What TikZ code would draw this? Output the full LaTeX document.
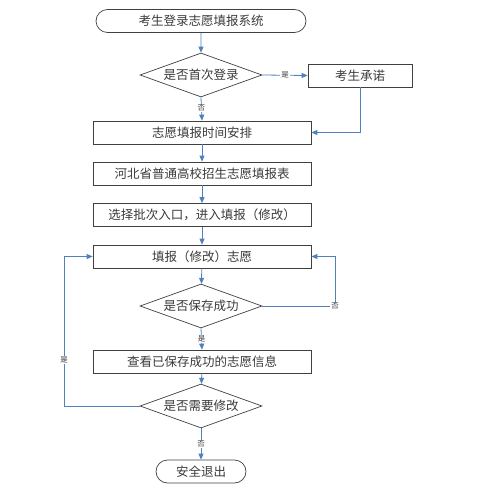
\documentclass[tikz,border=0pt]{standalone}
\usepackage{fontspec}
\newfontfamily\cjk{Noto Sans CJK SC}
\usetikzlibrary{shapes.geometric,shapes.misc,arrows.meta}
\definecolor{flowblue}{HTML}{4F81BD}
\definecolor{txtgray}{HTML}{3A3A3A}
\begin{document}
\begin{tikzpicture}[x=1pt,y=-1pt,
  every node/.style={font=\cjk\fontsize{12.5}{14}\selectfont, text=txtgray},
  procbox/.style={draw=black!75, line width=0.7pt, rectangle, minimum width=218pt, minimum height=23pt, inner sep=0pt},
  termbox/.style={draw=black!75, line width=0.7pt, rounded rectangle, minimum height=23pt, inner sep=0pt},
  decide/.style={draw=black!75, line width=0.7pt, diamond, aspect=2.8, minimum width=122pt, minimum height=44pt, inner sep=0pt},
  flow/.style={draw=flowblue, line width=0.8pt, -{Triangle[length=6pt,width=5pt]}},
  flowline/.style={draw=flowblue, line width=0.8pt},
  lbl/.style={font=\cjk\fontsize{7.5}{8}\selectfont, fill=white, inner sep=0.8pt, text=txtgray}
]
\useasboundingbox (0,0) rectangle (495,495);

\node[termbox, minimum width=210pt] (start) at (201,21) {考生登录志愿填报系统};
\node[decide] (d1) at (201,75) {是否首次登录};
\node[procbox, minimum width=104pt] (promise) at (360,75.5) {考生承诺};
\node[procbox] (time) at (202,132.5) {志愿填报时间安排};
\node[procbox] (table) at (202,173.5) {河北省普通高校招生志愿填报表};
\node[procbox] (batch) at (202,215) {选择批次入口，进入填报（修改）};
\node[procbox] (fill) at (202,256.5) {填报（修改）志愿};
\node[decide] (d2) at (201,306) {是否保存成功};
\node[procbox] (view) at (202,361.5) {查看已保存成功的志愿信息};
\node[decide] (d3) at (201,406) {是否需要修改};
\node[termbox, minimum width=90pt] (exit) at (201,471.5) {安全退出};

\coordinate (c1) at (335,306);
\coordinate (c2) at (64,406);

\draw[flow] (start) -- (d1);
\draw[flow] (d1.east) -- node[lbl] {是} (promise.west);
\draw[flow] (d1.south) -- node[lbl, pos=0.45] {否} (time.north);
\draw[flow] (promise.south) |- (time.east);
\draw[flow] (time) -- (table);
\draw[flow] (table) -- (batch);
\draw[flow] (batch) -- (fill);
\draw[flow] (fill) -- (d2);
\draw[flow] (d2.east) -- (c1) |- (fill.east);
\node[lbl] (no2) at (c1) {否};
\draw[flow] (d2.south) -- node[lbl, pos=0.5] {是} (view.north);
\draw[flow] (view) -- (d3);
\draw[flow] (d3.west) -- (c2) |- (fill.west);
\node[lbl] (yes3) at (64,360) {是};
\draw[flow] (d3.south) -- node[lbl, pos=0.5] {否} (exit.north);
\end{tikzpicture}
\end{document}
